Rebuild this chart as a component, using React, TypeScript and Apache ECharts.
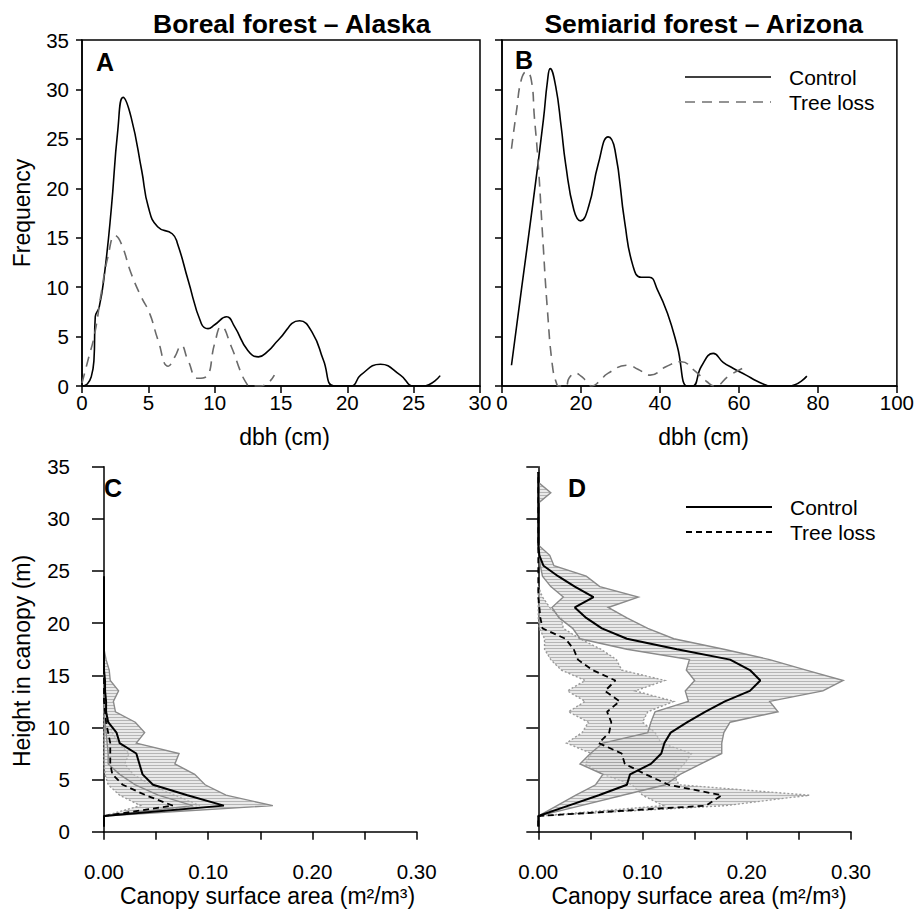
import React, { useEffect, useRef } from 'react';
import * as echarts from 'echarts';

// ---------- Panel A: Boreal forest – Alaska (dbh frequency) ----------
const alaskaControlDbh = [0, 0.4, 0.7, 0.9, 1.0, 1.3, 1.7, 2.2, 2.7, 3.1, 3.7, 4.5, 5.0, 5.7, 6.8, 7.2, 8.0, 9.0, 9.5, 10.0, 10.9, 11.5, 12.5, 13.3, 14.0, 14.8, 16.4, 17.4, 18.2, 19.0, 20.3, 21.0, 22.5, 24.0, 25.0, 25.7, 27.0];
const alaskaControlFreq = [0, 0.2, 0.95, 2.6, 7.0, 8.0, 11.4, 17.8, 25.9, 29.2, 27.2, 21.8, 18.1, 16.1, 15.4, 14.4, 10.7, 6.3, 5.8, 6.2, 7.0, 6.0, 3.6, 2.95, 3.5, 4.65, 6.6, 5.3, 2.6, 0, 0, 1.1, 2.2, 1.1, 0, 0, 1.05];
const alaskaLossDbh = [0, 0.45, 0.96, 1.45, 1.96, 2.5, 2.96, 3.7, 4.47, 5.1, 5.73, 6.5, 7.0, 7.48, 7.99, 8.74, 9.37, 10.0, 10.5, 11.25, 12.0, 12.4, 12.6, 13.5, 14.5];
const alaskaLossFreq = [0.3, 2.6, 5.3, 9.4, 13.1, 15.2, 14.4, 11.4, 9.0, 7.35, 4.65, 2.0, 2.96, 4.1, 2.6, 0.78, 0.95, 4.3, 6.0, 4.0, 1.3, 0.27, 0, 0, 1.1];

// ---------- Panel B: Semiarid forest – Arizona (dbh frequency) ----------
const arizonaControlDbh = [2.4, 5.0, 7.8, 10.5, 11.5, 12.2, 13.6, 15.0, 16.1, 18.2, 19.9, 21.9, 24.4, 26.9, 28.6, 31.1, 33.2, 35.2, 37.3, 39.4, 41.9, 44.4, 46.9, 48.3, 50.5, 53.5, 56.0, 58.5, 61.8, 64.5, 66.8, 67.5, 72.6, 77.2];
const arizonaControlFreq = [2.1, 10.0, 18.4, 27.0, 30.8, 32.1, 30.3, 26.2, 22.5, 17.8, 16.7, 18.1, 22.5, 25.2, 23.9, 16.5, 12.1, 11.0, 11.0, 9.7, 7.35, 4.0, 0, 0, 2.0, 3.3, 2.4, 1.8, 1.1, 0.5, 0.1, 0, 0, 1.0];
const arizonaLossDbh = [2.4, 3.7, 4.9, 6.2, 7.4, 8.2, 9.1, 10.3, 11.5, 12.8, 13.8, 14.3, 16.1, 17.0, 18.6, 20.0, 21.1, 22.8, 24.5, 26.9, 31.9, 34.4, 37.5, 41.5, 45.4, 48.6, 51.9, 53.8, 57.7, 62.3];
const arizonaLossFreq = [24.0, 27.9, 31.0, 31.8, 31.0, 27.2, 22.9, 15.1, 7.7, 1.95, 0.27, 0, 0, 0.8, 1.3, 1.0, 0.6, 0, 0.4, 1.3, 2.1, 1.7, 1.1, 1.95, 2.46, 1.6, 0.43, 0, 1.1, 2.05];

// ---------- Panel C: Alaska canopy profile ----------
const heightsC = [0.5, 1.5, 2.5, 3.5, 4.5, 5.5, 6.5, 7.5, 8.5, 9.5, 10.5, 11.5, 12.5, 13.5, 14.5, 15.5, 16.5, 17.5, 18.5, 19.5, 20.5, 21.5, 22.5, 23.5, 24.5];
const controlC = [0, 0, 0.115, 0.08, 0.047, 0.037, 0.034, 0.031, 0.015, 0.012, 0.004, 0.002, 0.002, 0.001, 0.001, 0, 0, 0, 0, 0, 0, 0, 0, 0, 0];
const lossC = [0, 0, 0.066, 0.04, 0.018, 0.008, 0.006, 0.006, 0.006, 0.004, 0.002, 0.001, 0, 0, 0, 0, 0, 0, 0, 0, 0, 0, 0, 0, 0];
const bandHeightsC = [1.5, 2.5, 3.5, 4.5, 5.5, 6.5, 7.5, 8.5, 9.5, 10.5, 11.5, 12.5, 13.5, 14.5, 15.5, 16.5, 17.5];
const controlLowC = [0, 0.085, 0.052, 0.03, 0.015, 0.004, 0.004, 0.003, 0.002, 0.001, 0, 0, 0, 0, 0, 0, 0];
const controlHighC = [0, 0.162, 0.117, 0.097, 0.087, 0.068, 0.072, 0.031, 0.039, 0.03, 0.011, 0.009, 0.014, 0.006, 0.005, 0.002, 0];
const lossBandHeightsC = [1.5, 2.5, 3.5, 4.5, 5.5, 6.5, 7.5, 8.5, 9.5, 10.5, 11.5, 12.5];
const lossLowC = [0, 0.035, 0.015, 0.004, 0.001, 0, 0, 0, 0, 0, 0, 0];
const lossHighC = [0, 0.092, 0.068, 0.045, 0.028, 0.02, 0.024, 0.014, 0.008, 0.005, 0.002, 0];

// ---------- Panel D: Arizona canopy profile ----------
const heightsD = [0.5, 1.5, 2.5, 3.5, 4.5, 5.5, 6.5, 7.5, 8.5, 9.5, 10.5, 11.5, 12.5, 13.5, 14.5, 15.5, 16.5, 17.5, 18.5, 19.5, 20.5, 21.5, 22.5, 23.5, 24.5, 25.5, 26.5, 27.5, 28.5, 29.5, 30.5, 31.5, 32.5, 33.5, 34.5];
const controlD = [0, 0, 0.029, 0.058, 0.085, 0.088, 0.108, 0.118, 0.121, 0.127, 0.143, 0.16, 0.179, 0.203, 0.213, 0.203, 0.184, 0.133, 0.085, 0.061, 0.046, 0.035, 0.053, 0.035, 0.019, 0.005, 0.001, 0, 0, 0, 0, 0, 0, 0, 0];
const lossD = [0, 0, 0.161, 0.176, 0.125, 0.103, 0.083, 0.08, 0.058, 0.068, 0.07, 0.066, 0.078, 0.064, 0.074, 0.052, 0.038, 0.034, 0.026, 0.004, 0.002, 0.001, 0, 0, 0, 0, 0, 0, 0, 0, 0, 0, 0, 0, 0];
const bandHeightsD = [1.5, 2.5, 3.5, 4.5, 5.5, 6.5, 7.5, 8.5, 9.5, 10.5, 11.5, 12.5, 13.5, 14.5, 15.5, 16.5, 17.5, 18.5, 19.5, 20.5, 21.5, 22.5, 23.5, 24.5, 25.5, 26.5, 27.5, 28.5, 29.5, 30.5, 31.5, 32.5, 33.5, 34.5];
const controlLowD = [0, 0.018, 0.036, 0.055, 0.062, 0.04, 0.05, 0.062, 0.105, 0.108, 0.112, 0.144, 0.141, 0.15, 0.142, 0.145, 0.085, 0.04, 0.033, 0.02, 0.013, 0.024, 0.012, 0.004, 0.002, 0.001, 0, 0, 0, 0, 0, 0, 0, 0];
const controlHighD = [0, 0.041, 0.081, 0.122, 0.136, 0.156, 0.176, 0.176, 0.178, 0.184, 0.23, 0.222, 0.273, 0.2925, 0.257, 0.222, 0.178, 0.13, 0.105, 0.085, 0.067, 0.096, 0.059, 0.046, 0.015, 0.011, 0, 0, 0, 0, 0, 0.012, 0, 0];
const lossBandHeightsD = [1.5, 2.5, 3.5, 4.5, 5.5, 6.5, 7.5, 8.5, 9.5, 10.5, 11.5, 12.5, 13.5, 14.5, 15.5, 16.5, 17.5, 18.5, 19.5, 20.5, 21.5, 22.5, 23.5];
const lossLowD = [0, 0.12, 0.1, 0.09, 0.062, 0.045, 0.051, 0.027, 0.042, 0.048, 0.029, 0.045, 0.028, 0.045, 0.022, 0.012, 0.006, 0.006, 0.001, 0, 0, 0, 0];
const lossHighD = [0, 0.18, 0.26, 0.135, 0.13, 0.14, 0.147, 0.118, 0.112, 0.1, 0.105, 0.13, 0.093, 0.1215, 0.08, 0.075, 0.06, 0.04, 0.024, 0.022, 0.011, 0.004, 0];

// ---------- Text ----------
const panelTitles = ['Boreal forest – Alaska', 'Semiarid forest – Arizona'];
const panelLetters = ['A', 'B', 'C', 'D'];
const legendLabels = ['Control', 'Tree loss'];
const dbhLabel = 'dbh (cm)';
const freqLabel = 'Frequency';
const heightLabel = 'Height in canopy (m)';
const canopyLabel = 'Canopy surface area (m²/m³)';

const FONT = '"Liberation Sans", Arial, Helvetica, sans-serif';

const zip = (xs: number[], ys: number[]) => xs.map((x, i) => [x, ys[i]]);

function makeHatch() {
  const c = document.createElement('canvas');
  c.width = 6;
  c.height = 3;
  const ctx = c.getContext('2d')!;
  ctx.fillStyle = 'rgba(215,215,215,0.55)';
  ctx.fillRect(0, 0, 6, 3);
  ctx.fillStyle = 'rgba(130,130,130,0.5)';
  ctx.fillRect(0, 0, 6, 1);
  return c;
}

function buildOption() {
  const hatch = { image: makeHatch(), repeat: 'repeat' };

  const band = (idx: number, hs: number[], low: number[], high: number[], stroke: string, dash: number[] | null) => ({
    type: 'custom',
    xAxisIndex: idx,
    yAxisIndex: idx,
    coordinateSystem: 'cartesian2d',
    silent: true,
    clip: false,
    z: 2,
    data: [[0, 0]],
    renderItem: (_p: any, api: any) => {
      const pts: number[][] = [];
      for (let i = 0; i < hs.length; i++) pts.push(api.coord([high[i], hs[i]]));
      for (let i = hs.length - 1; i >= 0; i--) pts.push(api.coord([low[i], hs[i]]));
      return {
        type: 'polygon',
        shape: { points: pts },
        style: { fill: hatch, stroke, lineWidth: 1.4, lineDash: dash || undefined },
      };
    },
  });

  const densityLine = (idx: number, xs: number[], ys: number[], color: string, type: any) => ({
    type: 'line',
    xAxisIndex: idx,
    yAxisIndex: idx,
    data: zip(xs, ys),
    showSymbol: false,
    smooth: 0.5,
    z: 3,
    lineStyle: { color, width: 1.6, type },
  });

  const profileLine = (idx: number, xs: number[], ys: number[], type: any, width: number) => ({
    type: 'line',
    xAxisIndex: idx,
    yAxisIndex: idx,
    data: zip(xs, ys),
    showSymbol: false,
    clip: false,
    z: 4,
    lineStyle: { color: '#000', width, type },
  });

  const axisLine = { show: true, lineStyle: { color: '#000', width: 1.5 } };
  const labelStyle = { color: '#000', fontSize: 20.5, fontFamily: FONT };
  const pctFmt = (v: number) => (Math.round(v * 100) % 10 === 0 ? v.toFixed(2) : '');

  const xAxis = [
    { gridIndex: 0, type: 'value', min: 0, max: 30, interval: 5, axisLine, splitLine: { show: false },
      axisTick: { show: true, length: 7, lineStyle: { color: '#000', width: 1.5 } },
      axisLabel: { ...labelStyle, margin: 6 } },
    { gridIndex: 1, type: 'value', min: 0, max: 100, interval: 20, axisLine, splitLine: { show: false },
      axisTick: { show: true, length: 7, lineStyle: { color: '#000', width: 1.5 } },
      axisLabel: { ...labelStyle, margin: 6 } },
    { gridIndex: 2, type: 'value', min: 0, max: 0.3, interval: 0.05, offset: 15, axisLine, splitLine: { show: false },
      axisTick: { show: true, length: 8, lineStyle: { color: '#000', width: 1.5 } },
      axisLabel: { ...labelStyle, margin: 14, formatter: pctFmt } },
    { gridIndex: 3, type: 'value', min: 0, max: 0.3, interval: 0.05, offset: 15, axisLine, splitLine: { show: false },
      axisTick: { show: true, length: 8, lineStyle: { color: '#000', width: 1.5 } },
      axisLabel: { ...labelStyle, margin: 14, formatter: pctFmt } },
  ];

  const yAxis = [
    { gridIndex: 0, type: 'value', min: 0, max: 35, interval: 5, axisLine, splitLine: { show: false },
      axisTick: { show: true, length: 6, lineStyle: { color: '#000', width: 1.5 } },
      axisLabel: { ...labelStyle, margin: 13 } },
    { gridIndex: 1, type: 'value', min: 0, max: 35, interval: 5, axisLine, splitLine: { show: false },
      axisTick: { show: true, length: 7, lineStyle: { color: '#000', width: 1.5 } },
      axisLabel: { show: false } },
    { gridIndex: 2, type: 'value', min: 0, max: 35, interval: 5, offset: 13, axisLine, splitLine: { show: false },
      axisTick: { show: true, length: 12, lineStyle: { color: '#000', width: 1.5 } },
      axisLabel: { ...labelStyle, margin: 21 } },
    { gridIndex: 3, type: 'value', min: 0, max: 35, interval: 5, offset: 12.6, axisLine, splitLine: { show: false },
      axisTick: { show: true, length: 12, lineStyle: { color: '#000', width: 1.5 } },
      axisLabel: { show: false } },
  ];

  const text = (t: string, x: number, y: number, size: number, bold = false, align = 'center', rotation = 0) => ({
    type: 'text',
    x,
    y,
    rotation,
    silent: true,
    style: {
      text: t,
      fill: '#000',
      fontSize: size,
      fontWeight: bold ? 'bold' : 'normal',
      fontFamily: FONT,
      align,
      verticalAlign: 'middle',
    },
  });

  const legendLine = (x1: number, x2: number, y: number, stroke: string, width: number, dash: number[] | null) => ({
    type: 'line',
    silent: true,
    shape: { x1, y1: y, x2, y2: y },
    style: { stroke, lineWidth: width, lineDash: dash || undefined },
  });

  const graphic = [
    text(panelTitles[0], 291.7, 23.5, 26.5, true),
    text(panelTitles[1], 703.7, 23.5, 26.5, true),
    text(panelLetters[0], 105, 62, 25, true),
    text(panelLetters[1], 524, 60, 25, true),
    text(panelLetters[2], 113, 488, 25, true),
    text(panelLetters[3], 577, 488, 25, true),
    text(freqLabel, 22, 213, 23, false, 'center', Math.PI / 2),
    text(heightLabel, 22, 661, 23, false, 'center', Math.PI / 2),
    text(dbhLabel, 284.5, 437, 23),
    text(dbhLabel, 703.5, 437, 23),
    text(canopyLabel, 267.5, 896, 23),
    text(canopyLabel, 699, 896, 23),
    legendLine(685, 771, 77, '#000', 1.6, null),
    legendLine(685, 771, 102, '#707070', 1.6, [10, 7]),
    text(legendLabels[0], 789, 77, 21, false, 'left'),
    text(legendLabels[1], 789, 102, 21, false, 'left'),
    legendLine(686, 772, 507, '#000', 2, null),
    legendLine(686, 772, 532, '#000', 1.8, [6, 4]),
    text(legendLabels[0], 790, 507, 21, false, 'left'),
    text(legendLabels[1], 790, 532, 21, false, 'left'),
  ];

  return {
    animation: false,
    backgroundColor: '#fff',
    grid: [
      { left: 82, top: 40, width: 398, height: 346, show: true, borderColor: '#000', borderWidth: 1.5, backgroundColor: 'transparent' },
      { left: 502, top: 40, width: 401, height: 346, show: true, borderColor: '#000', borderWidth: 1.5, backgroundColor: 'transparent' },
      { left: 104, top: 466.7, width: 312.7, height: 365 },
      { left: 538.3, top: 466.7, width: 312.7, height: 365 },
    ],
    xAxis,
    yAxis,
    series: [
      densityLine(0, alaskaControlDbh, alaskaControlFreq, '#000', 'solid'),
      densityLine(0, alaskaLossDbh, alaskaLossFreq, '#6a6a6a', [10, 7]),
      densityLine(1, arizonaControlDbh, arizonaControlFreq, '#000', 'solid'),
      densityLine(1, arizonaLossDbh, arizonaLossFreq, '#6a6a6a', [10, 7]),
      band(2, lossBandHeightsC, lossLowC, lossHighC, '#9a9a9a', [2, 2]),
      band(2, bandHeightsC, controlLowC, controlHighC, '#8a8a8a', null),
      profileLine(2, lossC, heightsC, [6, 4], 1.8),
      profileLine(2, controlC, heightsC, 'solid', 2),
      band(3, lossBandHeightsD, lossLowD, lossHighD, '#9a9a9a', [2, 2]),
      band(3, bandHeightsD, controlLowD, controlHighD, '#8a8a8a', null),
      profileLine(3, lossD, heightsD, [6, 4], 1.8),
      profileLine(3, controlD, heightsD, 'solid', 2),
    ],
    graphic,
  };
}

export default function App() {
  const ref = useRef<HTMLDivElement>(null);
  useEffect(() => {
    if (!ref.current) return;
    const chart = echarts.init(ref.current, undefined, { renderer: 'svg', width: 917, height: 915 });
    chart.setOption(buildOption() as any);
    return () => chart.dispose();
  }, []);
  return (
    <div
      ref={ref}
      style={{ position: 'fixed', left: 0, top: 0, width: 917, height: 915, background: '#fff' }}
    />
  );
}
